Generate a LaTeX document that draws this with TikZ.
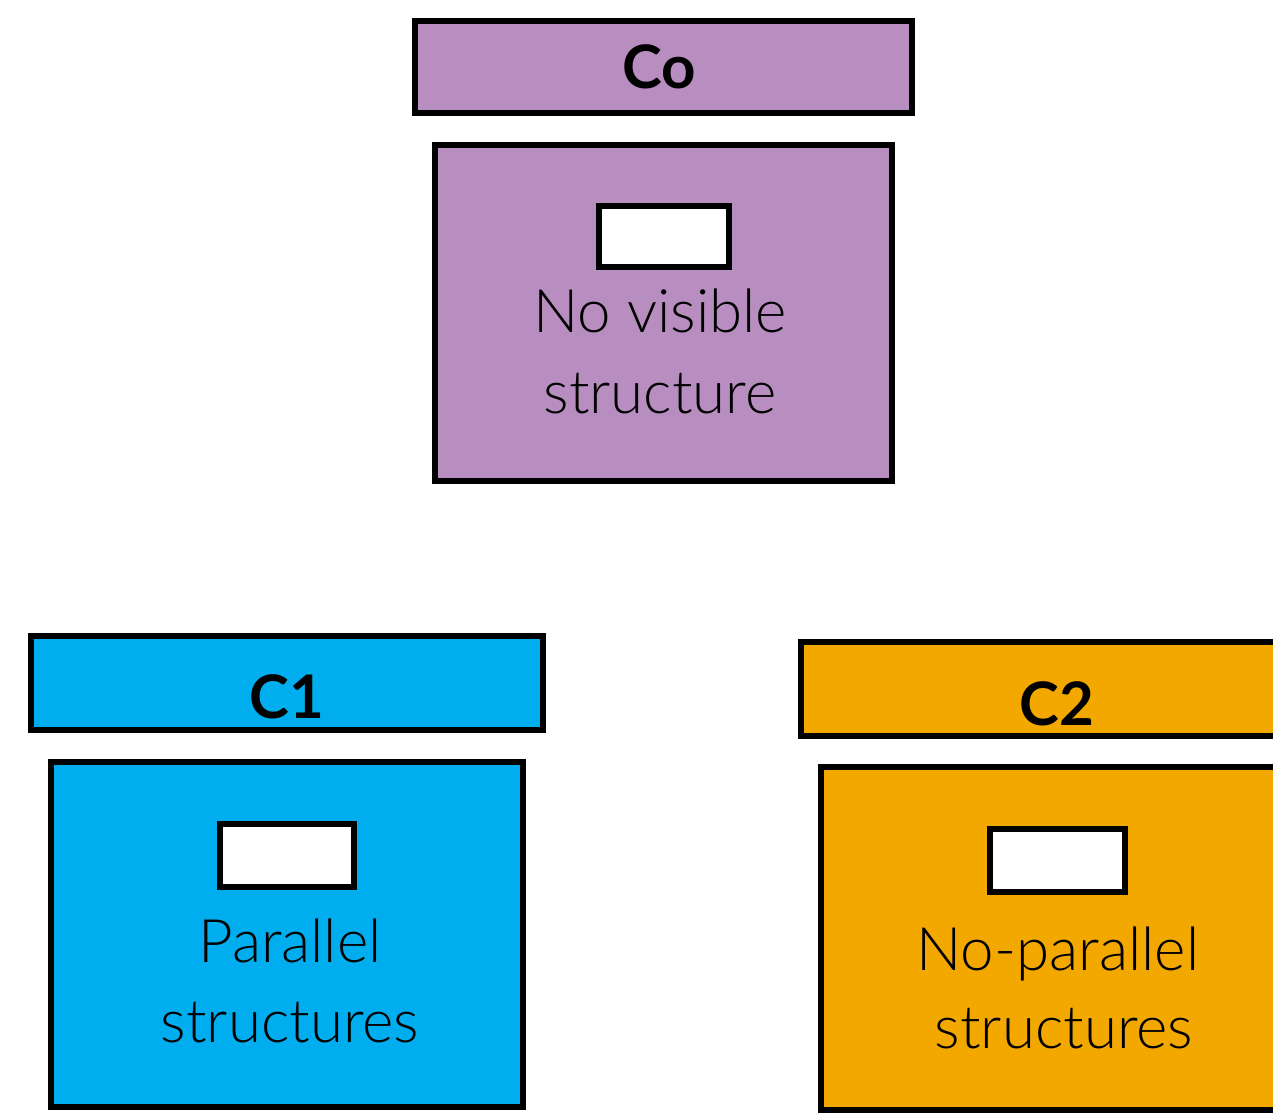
\documentclass[tikz,border=0pt]{standalone}
\usepackage{fontspec}
\setmainfont{Lato}
\newfontfamily\thinfont{Lato Light}
\definecolor{cpurple}{RGB}{184,141,192}
\definecolor{cblue}{RGB}{0,174,239}
\definecolor{corange}{RGB}{243,168,0}
\begin{document}
\begin{tikzpicture}[x=1pt,y=-1pt,
  frame/.style={draw=black,line width=6pt},
  hole/.style={draw=black,line width=5.5pt,fill=white},
  title/.style={font=\fontsize{60}{60}\selectfont\bfseries,anchor=base},
  label/.style={font=\thinfont\fontsize{60}{60}\selectfont,anchor=base}]
\useasboundingbox (0,0) rectangle (1273,1115);
\clip (0,0) rectangle (1273,1115);
% Co
\draw[frame,fill=cpurple] (415,21) rectangle (912,113);
\draw[frame,fill=cpurple] (435,145) rectangle (892,481);
\draw[hole] (599,206) rectangle (729,267);
\node[title] (t0) at (659,89) {Co};
\node[label] (a0) at (660,332) {No visible};
\node[label] (b0) at (660,413) {structure};
% C1
\draw[frame,fill=cblue] (31,636) rectangle (543,730);
\draw[frame,fill=cblue] (51,762) rectangle (523,1107);
\draw[hole] (220,824) rectangle (354,887);
\node[title] (t1) at (287,718) {C1};
\node[label] (a1) at (290,962) {Parallel};
\node[label] (b1) at (290,1042) {structures};
% C2
\draw[frame,fill=corange] (801,642) rectangle (1316,736);
\draw[frame,fill=corange] (821,767) rectangle (1296,1110);
\draw[hole] (990,829) rectangle (1125,892);
\node[title] (t2) at (1057,725) {C2};
\node[label] (a2) at (1058,970) {No-parallel};
\node[label] (b2) at (1064,1048) {structures};
\end{tikzpicture}
\end{document}
